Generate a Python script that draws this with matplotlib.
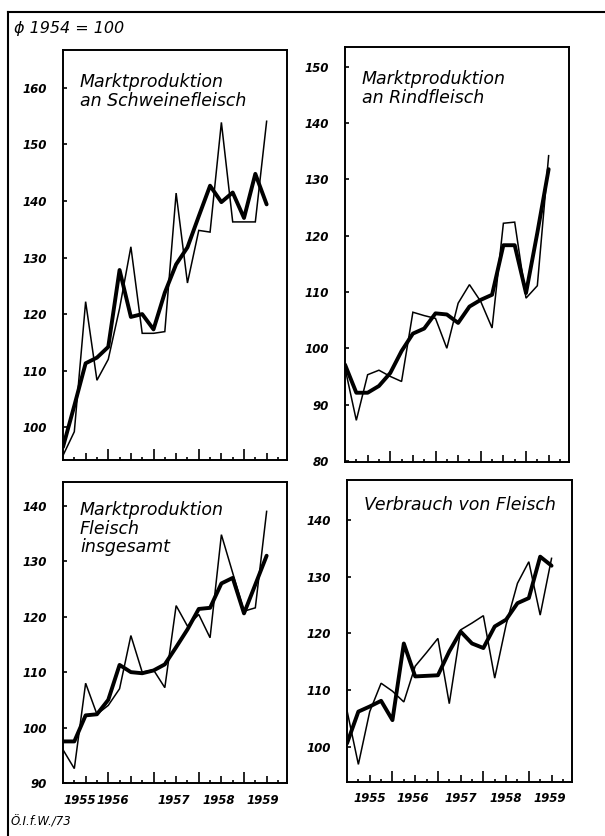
import matplotlib
matplotlib.use('Agg')
import matplotlib.pyplot as plt
from matplotlib.lines import Line2D
import matplotlib.transforms as mtransforms

# ---------------- data (quarterly index values, 1954 average = 100) ----------------
quarters = list(range(19))          # 1955 Q1 ... 1959 Q3
year_labels = ['1955', '1956', '1957', '1958', '1959']

pork_thin = [95.0, 99.2, 122.2, 108.3, 112.0, 121.0, 131.9, 116.6, 116.6, 116.9,
             141.4, 125.5, 134.8, 134.5, 153.9, 136.3, 136.3, 136.3, 154.1]
pork_thick = [96.5, 103.8, 111.3, 112.3, 114.2, 127.8, 119.5, 120.0, 117.3, 123.8,
              128.8, 131.8, 137.3, 142.7, 139.8, 141.5, 137.0, 144.8, 139.4]

beef_thin = [96.5, 87.2, 95.3, 96.1, 95.0, 94.1, 106.4, 105.8, 105.3, 100.0,
             108.0, 111.3, 108.3, 103.6, 122.2, 122.4, 108.9, 111.1, 134.2]
beef_thick = [97.1, 92.1, 92.1, 93.3, 95.6, 99.5, 102.6, 103.5, 106.2, 106.0,
              104.5, 107.4, 108.6, 109.5, 118.3, 118.3, 109.8, 120.5, 131.8]

total_thin = [96.0, 92.6, 108.0, 102.4, 104.0, 107.0, 116.6, 110.0, 110.4, 107.2,
              122.0, 118.3, 120.4, 116.2, 134.8, 127.9, 121.0, 121.6, 139.0]
total_thick = [97.5, 97.5, 102.2, 102.4, 105.0, 111.3, 110.0, 109.8, 110.3, 111.4,
               114.5, 117.7, 121.4, 121.6, 126.0, 127.0, 120.6, 125.8, 131.0]

cons_thin = [106.4, 96.9, 106.2, 111.2, 109.8, 107.9, 114.2, 116.6, 119.1, 107.6,
             120.6, 121.8, 123.1, 112.1, 121.5, 128.8, 132.6, 123.2, 133.2]
cons_thick = [100.6, 106.2, 107.1, 108.1, 104.7, 118.2, 112.4, 112.5, 112.6, 116.8,
              120.3, 118.2, 117.4, 121.2, 122.4, 125.3, 126.2, 133.5, 131.9]

pork_title = 'Marktproduktion\nan Schweinefleisch'
beef_title = 'Marktproduktion\nan Rindfleisch'
total_title = 'Marktproduktion\nFleisch\ninsgesamt'
cons_title = 'Verbrauch von Fleisch'
base_label = '\u03d5 1954 = 100'
source_label = 'Ö.I.f.W./73'

# ---------------- layout ----------------
W, H = 605, 836
fig = plt.figure(figsize=(W / 100, H / 100), dpi=100)
fig.patch.set_facecolor('white')

FONT = 'DejaVu Sans'
PX = 0.72  # points per pixel at 100 dpi


def add_ax(l, r, t, b):
    return fig.add_axes([l / W, 1 - b / H, (r - l) / W, (b - t) / H])


panels = [
    dict(box=(63, 287, 50, 460), ylim=(94.2, 166.7), yticks=[100, 110, 120, 130, 140, 150, 160],
         thin=pork_thin, thick=pork_thick, title=pork_title, tpos=(80, 73), years=None),
    dict(box=(345, 569, 47, 462), ylim=(79.8, 153.5), yticks=[80, 90, 100, 110, 120, 130, 140, 150],
         thin=beef_thin, thick=beef_thick, title=beef_title, tpos=(362, 70), years=None),
    dict(box=(63, 287, 482, 783), ylim=(90.1, 144.3), yticks=[90, 100, 110, 120, 130, 140],
         thin=total_thin, thick=total_thick, title=total_title, tpos=(80, 501),
         years=[1.5, 4.4, 9.8, 13.8, 17.7]),
    dict(box=(347, 572, 480, 782), ylim=(93.8, 147.0), yticks=[100, 110, 120, 130, 140],
         thin=cons_thin, thick=cons_thick, title=cons_title, tpos=(364, 496),
         years=[2.0, 5.8, 10.0, 14.0, 17.8]),
]

for p in panels:
    ax = add_ax(*p['box'])
    ax.plot(quarters, p['thin'], color='black', lw=1.1, solid_joinstyle='miter')
    ax.plot(quarters, p['thick'], color='black', lw=2.8, solid_joinstyle='round',
            solid_capstyle='round')
    ax.set_xlim(0, 19.8)
    ax.set_ylim(*p['ylim'])
    for s in ax.spines.values():
        s.set_linewidth(1.4)
    ax.set_yticks(p['yticks'])
    ax.set_yticklabels([str(v) for v in p['yticks']], fontfamily=FONT, fontsize=8.5,
                       fontweight='bold', fontstyle='italic')
    ax.tick_params(axis='y', direction='in', length=4 * PX, width=1.2, pad=16 * PX)
    # quarter ticks on x axis
    ax.set_xticks(list(range(1, 20)))
    ax.set_xticklabels([])
    ax.tick_params(axis='x', direction='in', width=1.2, length=4 * PX)
    for t, q in zip(ax.xaxis.get_major_ticks(), range(1, 20)):
        if q % 4 == 0:
            L = 11
        elif q % 2 == 0:
            L = 7
        else:
            L = 3.5
        t.tick1line.set_markersize(L * PX)
        t.tick2line.set_visible(False)
    if p['years'] is not None:
        trans = mtransforms.blended_transform_factory(ax.transData, ax.transAxes)
        off = mtransforms.ScaledTranslation(0, -17 / 100, fig.dpi_scale_trans)
        for pos, lab in zip(p['years'], year_labels):
            ax.text(pos, 0, lab, transform=trans + off, ha='center', va='center',
                    fontfamily=FONT, fontsize=8.5, fontweight='bold', fontstyle='italic')
    fig.text(p['tpos'][0] / W, 1 - p['tpos'][1] / H, p['title'], ha='left', va='top',
             fontfamily=FONT, fontsize=12.5, fontstyle='italic', linespacing=1.05)

# header / footer
fig.text(14 / W, 1 - 28 / H, base_label, ha='left', va='center', fontfamily=FONT,
         fontsize=11.5, fontstyle='italic')
fig.text(11 / W, 1 - 822 / H, source_label, ha='left', va='center', fontfamily=FONT,
         fontsize=8.5, fontstyle='italic')

# outer frame lines (left and top)
fig.add_artist(Line2D([8 / W, 8 / W], [0, 1 - 12 / H], transform=fig.transFigure,
                      color='black', lw=1.5))
fig.add_artist(Line2D([8 / W, 1.0], [1 - 12 / H, 1 - 12 / H], transform=fig.transFigure,
                      color='black', lw=1.5))

fig.savefig('out.png', dpi=100, facecolor='white')
